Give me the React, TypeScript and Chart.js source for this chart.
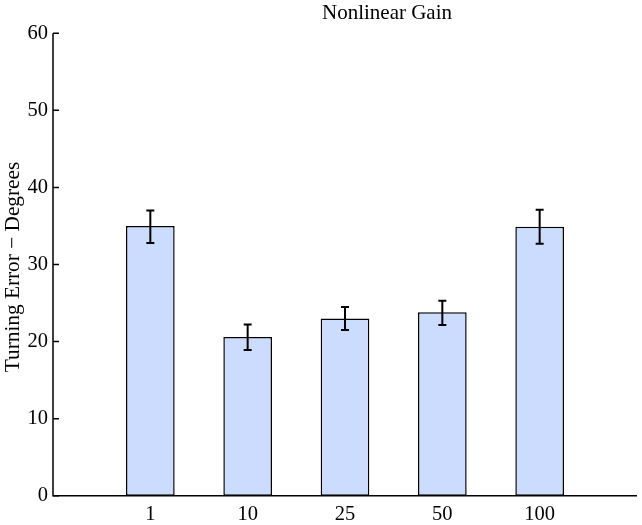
import React, { useEffect, useRef } from "react";
import { Chart, registerables } from "chart.js";

Chart.register(...registerables);

const categories = ["1", "10", "25", "50", "100"];
const positions = [1, 2, 3, 4, 5];
const values = [35.0, 20.6, 23.0, 23.8, 34.9];
const errLow = [32.8, 18.9, 21.5, 22.15, 32.7];
const errHigh = [37.0, 22.2, 24.5, 25.3, 37.1];
const yTicks = [0, 10, 20, 30, 40, 50, 60];
const titleText = "Nonlinear Gain";
const yLabelText = "Turning Error \u2212 Degrees";

const FONT = "'Liberation Serif', 'Times New Roman', serif";

const decorPlugin = {
  id: "decor",
  afterDatasetsDraw(chart: any) {
    const { ctx, chartArea, scales } = chart;
    const x = scales.x;
    const y = scales.y;
    ctx.save();
    // error bars
    ctx.strokeStyle = "#000";
    ctx.lineWidth = 2;
    for (let i = 0; i < values.length; i++) {
      const px = x.getPixelForValue(positions[i]);
      const lo = y.getPixelForValue(errLow[i]);
      const hi = y.getPixelForValue(errHigh[i]);
      ctx.beginPath();
      ctx.moveTo(px, lo);
      ctx.lineTo(px, hi);
      ctx.moveTo(px - 4, lo);
      ctx.lineTo(px + 4, lo);
      ctx.moveTo(px - 4, hi);
      ctx.lineTo(px + 4, hi);
      ctx.stroke();
    }
    // axes
    ctx.lineWidth = 1.5;
    ctx.beginPath();
    ctx.moveTo(chartArea.left, chartArea.top);
    ctx.lineTo(chartArea.left, chartArea.bottom);
    ctx.lineTo(chartArea.right, chartArea.bottom);
    ctx.stroke();
    ctx.beginPath();
    for (const t of yTicks) {
      const py = y.getPixelForValue(t);
      ctx.moveTo(chartArea.left, py);
      ctx.lineTo(chartArea.left + 6, py);
    }
    ctx.stroke();
    // title
    ctx.fillStyle = "#000";
    ctx.font = `21px ${FONT}`;
    ctx.textAlign = "center";
    ctx.textBaseline = "alphabetic";
    ctx.fillText(titleText, 387, 18.5);
    // y label
    ctx.translate(19, 267);
    ctx.rotate(-Math.PI / 2);
    ctx.font = `21.3px ${FONT}`;
    ctx.textAlign = "center";
    ctx.textBaseline = "alphabetic";
    ctx.fillText(yLabelText, 0, 0);
    ctx.restore();
  },
};

export default function App() {
  const ref = useRef<HTMLCanvasElement | null>(null);
  useEffect(() => {
    if (!ref.current) return;
    const chart = new Chart(ref.current, {
      type: "bar",
      data: {
        datasets: [
          {
            data: positions.map((p, i) => ({ x: p, y: values[i] })),
            backgroundColor: "rgb(204,220,255)",
            borderColor: "#000",
            borderWidth: 1.5,
            borderSkipped: false,
            barPercentage: 0.5,
            categoryPercentage: 1,
          },
        ],
      },
      options: {
        animation: false,
        responsive: false,
        layout: { padding: { top: 33.3, right: 5, left: 0, bottom: 0 } },
        plugins: {
          legend: { display: false },
          tooltip: { enabled: false },
          title: { display: false },
        },
        scales: {
          x: {
            type: "linear",
            min: 0,
            max: 6,
            offset: false,
            grid: { display: false, drawTicks: false, offset: false },
            border: { display: false },
            afterBuildTicks: (axis: any) => {
              axis.ticks = positions.map((v) => ({ value: v }));
            },
            afterFit: (axis: any) => {
              axis.height = 29.3;
            },
            ticks: {
              padding: 7,
              maxRotation: 0,
              autoSkip: false,
              color: "#000",
              font: { family: FONT, size: 20.5 },
              callback: (v: any) => {
                const idx = positions.indexOf(Number(v));
                return idx >= 0 ? categories[idx] : "";
              },
            },
          },
          y: {
            type: "linear",
            min: 0,
            max: 60,
            grid: { display: false, drawTicks: false },
            border: { display: false },
            afterBuildTicks: (axis: any) => {
              axis.ticks = yTicks.map((v) => ({ value: v }));
            },
            afterFit: (axis: any) => {
              axis.width = 53;
            },
            ticks: {
              padding: 5,
              color: "#000",
              font: { family: FONT, size: 20.5 },
            },
          },
        },
      },
      plugins: [decorPlugin],
    } as any);
    return () => chart.destroy();
  }, []);
  return (
    <div style={{ position: "absolute", left: 0, top: 0, width: 642, height: 525, background: "#fff" }}>
      <canvas ref={ref} width={642} height={525} />
    </div>
  );
}
